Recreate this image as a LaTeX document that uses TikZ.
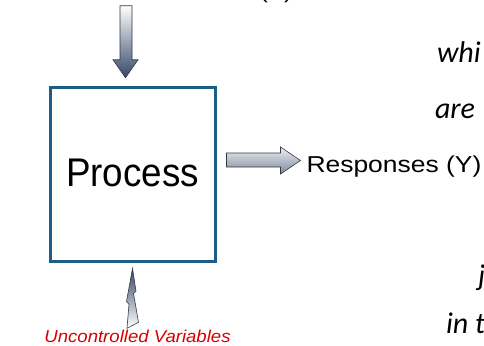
\documentclass[tikz,border=0pt]{standalone}
\usepackage{fontspec}
\setmainfont{Liberation Sans}
\newfontfamily\calibri{Carlito}
\usepackage{graphicx}
\usetikzlibrary{calc}

\definecolor{boxblue}{RGB}{27,94,134}
\definecolor{arrowdark}{RGB}{52,70,104}
\definecolor{arrowlight}{RGB}{236,240,245}
\definecolor{arrowmid}{RGB}{125,136,154}
\definecolor{edgegrey}{RGB}{55,55,60}
\definecolor{labelred}{RGB}{215,0,0}

\tikzset{
  processbox/.style={draw=boxblue, line width=3pt, minimum width=165pt,
    minimum height=174pt, inner sep=0pt},
  txt/.style={inner sep=0pt, outer sep=0pt},
  blockarrow/.style={draw=edgegrey, line width=0.6pt, line join=miter},
  sidetext/.style={txt, anchor=base west,
    font=\fontsize{30}{34}\selectfont\calibri\itshape},
}

\begin{document}
\begin{tikzpicture}[x=1pt,y=-1pt]
  \useasboundingbox (0,0) rectangle (484,345);
  \clip (0,0) rectangle (484,345);

  % process block
  \node[processbox] (process) at (132.5,174.8) {};
  \node[txt, anchor=base] (proclabel) at (132.5,186.7)
    {\scalebox{0.92}[1]{\fontsize{40}{44}\selectfont Process}};

  % inputs arriving from above
  \node[txt, anchor=base] (inputs) at (276,-1)
    {\scalebox{1.15}[1]{\fontsize{21}{24}\selectfont (X)}};
  \coordinate (intip) at ($(process.north)+(-7,-8.5)$);
  \shade[blockarrow, top color=white, bottom color=arrowdark]
    (intip) -- ($(intip)+(12.5,-18)$) -- ($(intip)+(6.5,-18)$)
    -- ($(intip)+(6.5,-72)$) -- ($(intip)+(-5.5,-72)$)
    -- ($(intip)+(-5.5,-18)$) -- ($(intip)+(-12.5,-18)$) -- cycle;

  % responses leaving to the right
  \coordinate (outtail) at ($(process.east)+(10,-14.8)$);
  \shade[blockarrow, top color=arrowlight, bottom color=arrowmid]
    ($(outtail)+(0,-7)$) -- ($(outtail)+(54,-7)$) -- ($(outtail)+(54,-13)$)
    -- ($(outtail)+(74,0.5)$) -- ($(outtail)+(54,14)$) -- ($(outtail)+(54,7)$)
    -- ($(outtail)+(0,7)$) -- cycle;
  \node[txt, anchor=base west] (responses) at (306.5,172)
    {\scalebox{1.15}[1]{\fontsize{23}{26}\selectfont Responses (Y)}};

  % uncontrolled variables striking from below
  \coordinate (bolttip) at ($(process.south)+(0,5)$);
  \shade[blockarrow, top color=arrowdark, bottom color=white]
    (bolttip) -- ($(bolttip)+(3.5,23)$) -- ($(bolttip)+(1,25)$)
    -- ($(bolttip)+(6,54)$) -- ($(bolttip)+(-5.5,60)$)
    -- ($(bolttip)+(-3.5,36)$) -- ($(bolttip)+(-6,33)$)
    -- ($(bolttip)+(-2.5,14)$) -- cycle;
  \node[txt, anchor=base, text=labelred] (uncontrolled) at (137.5,342.5)
    {\scalebox{1.08}[1]{\fontsize{17.2}{19}\selectfont\itshape Uncontrolled Variables}};

  % running text at the right margin
  \node[sidetext] (t1) at (437,63) {whi};
  \node[sidetext] (t2) at (435,118) {are};
  \node[sidetext] (t3) at (478,285) {j};
  \node[sidetext] (t4) at (446,333) {in t};
\end{tikzpicture}
\end{document}
